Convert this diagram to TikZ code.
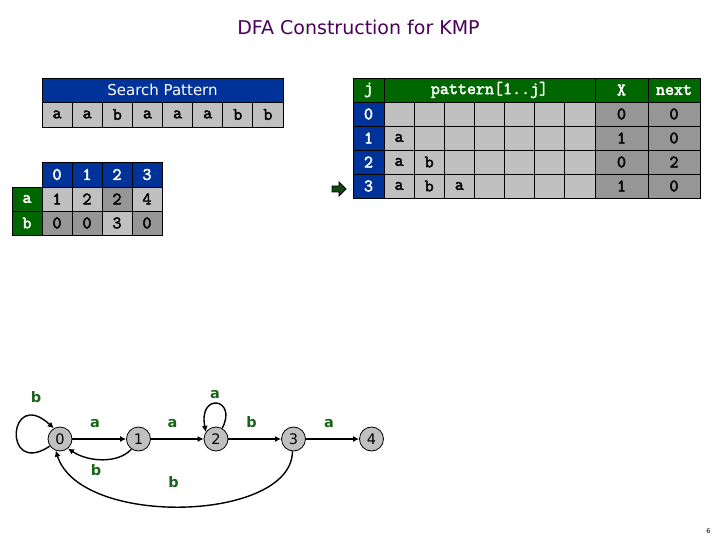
\documentclass[tikz,border=0pt]{standalone}
\usepackage{fontspec}
\setmainfont{DejaVu Sans}
\newfontfamily\cellfont{Latin Modern Mono}[FakeBold=2.5]
\usetikzlibrary{arrows.meta}
\definecolor{hblue}{RGB}{0,51,153}
\definecolor{hgreen}{RGB}{0,102,0}
\definecolor{lgray}{RGB}{192,192,192}
\definecolor{dgray}{RGB}{150,150,150}
\definecolor{lblgreen}{RGB}{25,100,25}
\definecolor{titlec}{RGB}{75,0,90}
\definecolor{ptrgreen}{RGB}{20,70,20}
\tikzset{
  cell/.style={draw=black, line width=0.8pt, rectangle, inner sep=0pt, outer sep=0pt,
    anchor=north west, font=\cellfont\fontsize{17.5}{17.5}\selectfont},
  lc/.style={cell, fill=lgray},
  dc/.style={cell, fill=dgray},
  bc/.style={cell, fill=hblue, text=white},
  gc/.style={cell, fill=hgreen, text=white},
  st/.style={circle, draw=black, fill=lgray, minimum size=24pt, inner sep=0pt,
    line width=0.8pt, font=\fontsize{14.5}{14.5}\selectfont},
  tr/.style={line width=1.4pt, -{Latex[length=6pt,width=6pt]}},
  el/.style={text=lblgreen, font=\bfseries\fontsize{14.5}{14.5}\selectfont, anchor=base, inner sep=0pt},
}
\begin{document}
\begin{tikzpicture}[x=1pt,y=-1pt]
\useasboundingbox[fill=white] (0,0) rectangle (720,540);

% title
\node[text=titlec, font=\fontsize{19}{19}\selectfont, anchor=base, inner sep=0pt] (title) at (358.5,35) {DFA Construction for KMP};

% search pattern table
\node[bc, minimum width=241pt, minimum height=24pt, font=\fontsize{15}{15}\selectfont] (sph) at (42,78) {Search Pattern};
\foreach \t [count=\i from 0] in {a,a,b,a,a,a,b,b}
  \node[lc, minimum width=30.125pt, minimum height=25pt] (sp\i) at ({42+30.125*\i},102) {\t};

% DFA table
\foreach \t [count=\i from 0] in {0,1,2,3}
  \node[bc, minimum width=30pt, minimum height=25pt] (dh\i) at ({42+30*\i},162) {\t};
\node[gc, minimum width=30pt, minimum height=24pt] (ra) at (12,187) {a};
\node[gc, minimum width=30pt, minimum height=24pt] (rb) at (12,211) {b};
\foreach \t/\c [count=\i from 0] in {1/lgray,2/lgray,2/dgray,4/lgray}
  \node[cell, fill=\c, minimum width=30pt, minimum height=24pt] (da\i) at ({42+30*\i},187) {\t};
\foreach \t/\c [count=\i from 0] in {0/dgray,0/dgray,3/lgray,0/dgray}
  \node[cell, fill=\c, minimum width=30pt, minimum height=24pt] (db\i) at ({42+30*\i},211) {\t};

% right table
\node[gc, minimum width=31pt, minimum height=24pt] (th0) at (353,78) {j};
\node[gc, minimum width=211pt, minimum height=24pt] (th1) at (384,78) {pattern[1..j]};
\node[gc, minimum width=53pt, minimum height=24pt] (th2) at (595,78) {X};
\node[gc, minimum width=52pt, minimum height=24pt] (th3) at (648,78) {next};
\foreach \r/\pa/\pb/\pc/\xv/\nv in {0/{}/{}/{}/0/0, 1/a/{}/{}/1/0, 2/a/b/{}/0/2, 3/a/b/a/1/0} {
  \node[bc, minimum width=31pt, minimum height=24pt] (tj\r) at (353,{102+24*\r}) {\r};
  \node[lc, minimum width=30.14pt, minimum height=24pt] (tp\r-0) at (384,{102+24*\r}) {\pa};
  \node[lc, minimum width=30.14pt, minimum height=24pt] (tp\r-1) at (414.14,{102+24*\r}) {\pb};
  \node[lc, minimum width=30.14pt, minimum height=24pt] (tp\r-2) at (444.28,{102+24*\r}) {\pc};
  \foreach \c in {3,...,6}
    \node[lc, minimum width=30.14pt, minimum height=24pt] (tp\r-\c) at ({384+30.14*\c},{102+24*\r}) {};
  \node[dc, minimum width=53pt, minimum height=24pt] (tx\r) at (595,{102+24*\r}) {\xv};
  \node[dc, minimum width=52pt, minimum height=24pt] (tn\r) at (648,{102+24*\r}) {\nv};
}

% pointer arrow
\draw[fill=ptrgreen, line width=0.8pt, line join=miter]
  (332,186) -- (339,186) -- (339,182) -- (346,189) -- (339,196) -- (339,192) -- (332,192) -- cycle;

% DFA graph
\node[st] (n0) at (60,439) {0};
\node[st] (n1) at (138.5,439) {1};
\node[st] (n2) at (216,439) {2};
\node[st] (n3) at (293.5,439) {3};
\node[st] (n4) at (371.5,439) {4};

\draw[tr] (n0) -- (n1);
\draw[tr] (n1) -- (n2);
\draw[tr] (n2) -- (n3);
\draw[tr] (n3) -- (n4);
\draw[tr] (n0.215) .. controls (2,478) and (8,386) .. (n0.120);
\draw[tr] (n2.60) .. controls (238,398) and (198,392) .. (n2.145);
\draw[tr] (n1.235) .. controls (118,464) and (88,462) .. (n0.-50);
\draw[tr] (n3.-95) .. controls (292,522) and (80,528) .. (n0.-110);

\node[el] (l1) at (36,402) {b};
\node[el] (l2) at (95,427) {a};
\node[el] (l3) at (172.5,427) {a};
\node[el] (l4) at (215,398) {a};
\node[el] (l5) at (251.5,427) {b};
\node[el] (l6) at (329,427) {a};
\node[el] (l7) at (96,475) {b};
\node[el] (l8) at (173.5,487) {b};

% page number
\node[font=\fontsize{6.5}{6.5}\selectfont, anchor=base, inner sep=0pt] (pg) at (708.5,533) {6};
\end{tikzpicture}
\end{document}
